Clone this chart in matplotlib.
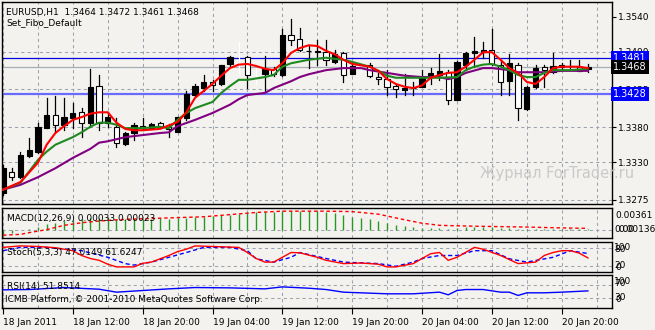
import matplotlib
matplotlib.use("Agg")
import matplotlib.pyplot as plt
from matplotlib.patches import Rectangle

# ---- data (EURUSD H1, 18 Jan 04:00 .. 20 Jan 23:00) ----
opens  = [1.3285,1.3316,1.3308,1.3339,1.3345,1.3379,1.3398,1.3384,1.3394,1.3402,
          1.3387,1.3440,1.3387,1.3381,1.3356,1.3372,1.3382,1.3379,1.3387,1.3381,
          1.3373,1.3394,1.3427,1.3437,1.3446,1.3443,1.3472,1.3482,1.3482,1.3466,
          1.3457,1.3465,1.3456,1.3514,1.3508,1.3491,1.3491,1.3489,1.3475,1.3488,
          1.3457,1.3469,1.3471,1.3453,1.3450,1.3440,1.3434,1.3437,1.3439,1.3453,
          1.3456,1.3460,1.3420,1.3471,1.3488,1.3489,1.3492,1.3471,1.3447,1.3471,
          1.3407,1.3439,1.3468,1.3460,1.3468,1.3469,1.3468,1.3464]
highs  = [1.3326,1.3321,1.3345,1.3365,1.3387,1.3423,1.3425,1.3423,1.3416,1.3408,
          1.3465,1.3456,1.3402,1.3394,1.3373,1.3387,1.3394,1.3387,1.3388,1.3385,
          1.3395,1.3433,1.3443,1.3456,1.3449,1.3471,1.3484,1.3504,1.3484,1.3466,
          1.3484,1.3468,1.3523,1.3537,1.3524,1.3499,1.3507,1.3507,1.3492,1.3489,
          1.3471,1.3471,1.3473,1.3459,1.3463,1.3443,1.3457,1.3446,1.3463,1.3466,
          1.3486,1.3463,1.3476,1.3489,1.3511,1.3504,1.3523,1.3478,1.3486,1.3473,
          1.3440,1.3471,1.3471,1.3488,1.3473,1.3478,1.3477,1.3472]
lows   = [1.3282,1.3304,1.3307,1.3337,1.3343,1.3379,1.3373,1.3376,1.3379,1.3366,
          1.3381,1.3376,1.3381,1.3352,1.3355,1.3362,1.3376,1.3378,1.3379,1.3366,
          1.3373,1.3391,1.3425,1.3433,1.3433,1.3441,1.3468,1.3459,1.3437,1.3443,
          1.3433,1.3455,1.3455,1.3499,1.3491,1.3466,1.3471,1.3471,1.3473,1.3446,
          1.3457,1.3460,1.3453,1.3443,1.3427,1.3424,1.3427,1.3427,1.3439,1.3443,
          1.3449,1.3414,1.3420,1.3463,1.3468,1.3481,1.3471,1.3427,1.3427,1.3391,
          1.3405,1.3437,1.3439,1.3459,1.3463,1.3463,1.3462,1.3461]
closes = [1.3321,1.3308,1.3340,1.3347,1.3381,1.3398,1.3384,1.3395,1.3401,1.3387,
          1.3439,1.3387,1.3395,1.3358,1.3372,1.3384,1.3379,1.3385,1.3382,1.3378,
          1.3395,1.3428,1.3440,1.3446,1.3441,1.3471,1.3482,1.3472,1.3456,1.3460,
          1.3465,1.3457,1.3514,1.3507,1.3492,1.3491,1.3490,1.3478,1.3486,1.3456,
          1.3469,1.3466,1.3455,1.3450,1.3439,1.3436,1.3437,1.3437,1.3453,1.3459,
          1.3462,1.3420,1.3475,1.3488,1.3491,1.3492,1.3472,1.3446,1.3474,1.3408,
          1.3439,1.3466,1.3463,1.3469,1.3471,1.3469,1.3462,1.3468]
ghost = [27, 29, 41]   # bars that are drawn white-on-white in the screenshot

red_i = [0,2,4,5,6,7,8,9,10,11,12,13,14,15,16,18,20,21,22,23,24,25,26,27,28,29,30,31,
         32,33,34,35,36,37,38,39,40,42,43,44,45,46,47,48,49,50,51,52,53,54,55,56,57,58,
         59,60,61,62,63,64,66,67]
red_v = [1.3290,1.3301,1.3329,1.3355,1.3372,1.3382,1.3391,1.3395,1.3400,1.3402,1.3402,
         1.3387,1.3378,1.3376,1.3376,1.3378,1.3388,1.3402,1.3423,1.3433,1.3443,1.3455,
         1.3466,1.3471,1.3472,1.3469,1.3465,1.3463,1.3473,1.3488,1.3495,1.3499,1.3498,
         1.3491,1.3486,1.3478,1.3472,1.3468,1.3462,1.3450,1.3443,1.3439,1.3437,1.3441,
         1.3452,1.3456,1.3459,1.3460,1.3468,1.3478,1.3489,1.3489,1.3478,1.3466,1.3459,
         1.3446,1.3443,1.3453,1.3466,1.3468,1.3468,1.3466]
green_i = [0,2,4,5,6,8,9,10,11,12,13,14,16,18,19,20,21,22,24,25,26,27,28,30,31,32,33,35,
           37,39,40,42,43,44,45,47,50,52,53,54,55,56,57,58,59,60,61,62,63,65,67]
green_v = [1.3290,1.3300,1.3333,1.3345,1.3355,1.3366,1.3373,1.3381,1.3387,1.3387,1.3384,
           1.3379,1.3379,1.3381,1.3379,1.3391,1.3401,1.3408,1.3417,1.3430,1.3440,1.3449,
           1.3449,1.3453,1.3456,1.3468,1.3473,1.3478,1.3481,1.3478,1.3475,1.3468,1.3462,
           1.3455,1.3452,1.3452,1.3452,1.3453,1.3463,1.3468,1.3471,1.3472,1.3468,1.3463,
           1.3456,1.3453,1.3453,1.3459,1.3463,1.3463,1.3465]
purple_i = [0,2,4,6,8,10,11,12,14,16,18,19,20,22,24,26,27,28,30,31,33,34,35,37,39,41,42,
            44,46,48,50,51,52,53,55,56,58,59,62,64,67]
purple_v = [1.3290,1.3297,1.3308,1.3321,1.3336,1.3349,1.3358,1.3360,1.3366,1.3369,1.3372,
            1.3373,1.3382,1.3391,1.3401,1.3413,1.3421,1.3427,1.3430,1.3437,1.3447,1.3453,
            1.3457,1.3463,1.3466,1.3466,1.3463,1.3459,1.3455,1.3453,1.3453,1.3450,1.3453,
            1.3459,1.3466,1.3466,1.3463,1.3460,1.3460,1.3462,1.3462]

macd_hist = [-0.0013,-0.0006,0.0000,0.0004,0.0009,0.0014,0.0017,0.0021,0.0025,0.0027,
             0.0029,0.0030,0.0029,0.0027,0.0026,0.0027,0.0027,0.0027,0.0028,0.0027,
             0.0028,0.0030,0.0031,0.0032,0.0033,0.0035,0.0037,0.0039,0.0041,0.0042,
             0.0043,0.0043,0.0045,0.0046,0.0046,0.0046,0.0045,0.0044,0.0041,0.0036,
             0.0032,0.0030,0.0027,0.0023,0.0017,0.0012,0.0010,0.0008,0.0006,0.0006,
             0.0005,0.0004,0.0006,0.0008,0.0009,0.0008,0.0007,0.0006,0.0006,0.0003,
             0.0003,0.0004,0.0004,0.0004,0.0004,0.0004,0.0004,0.0003]
sig_i = [0,2,3,5,7,9,11,14,17,20,23,26,29,32,37,40,43,46,48,50,54,60,64,67]
sig_v = [-0.0011,-0.0009,-0.0005,0.0002,0.0012,0.0018,0.0022,0.0026,0.0028,0.0030,
         0.0032,0.0037,0.0042,0.0045,0.0045,0.0044,0.0038,0.0025,0.0017,0.0012,
         0.0010,0.0008,0.0006,0.0005]

stm_i = [0,2,4,6,8,9,10,11,12,13,15,16,17,19,20,21,22,24,25,27,28,29,30,31,32,33,34,36,
         37,39,41,43,44,45,47,48,49,50,51,52,54,55,57,59,61,62,63,64,65,66,67]
stm_v = [82,87,85,81,71,55,45,39,26,17,17,29,33,55,68,76,87,85,84,82,65,45,33,33,49,65,
         64,49,39,28,30,26,17,17,28,45,61,65,39,49,82,76,55,28,33,55,65,71,71,63,47]
sts_i = [0,2,5,9,12,14,15,17,21,23,26,28,29,31,33,34,37,39,43,45,47,48,50,52,54,56,58,
         60,63,65,67]
sts_v = [71,82,82,71,49,28,23,33,65,82,82,71,44,33,49,65,45,33,28,19,33,45,55,55,71,71,
         44,33,49,71,61.6]

rsi_i = [0,3,7,11,13,16,19,22,26,30,32,35,37,39,44,47,50,51,52,53,55,57,58,59,60,62,64,67]
rsi_v = [55,56,62,57,48,53,58,62,61,58,64,60,56,48,43,43,48,40,53,56,56,48,48,38,46,46,
         48,51.85]

price_ticks = [1.3540, 1.3490, 1.3435, 1.3380, 1.3330, 1.3275]
price_grid = [1.3490, 1.3435, 1.3380, 1.3330, 1.3275]
time_idx = [0, 8, 16, 24, 32, 40, 48, 56, 64]
time_lbl = ["18 Jan 2011", "18 Jan 12:00", "18 Jan 20:00", "19 Jan 04:00", "19 Jan 12:00",
            "19 Jan 20:00", "20 Jan 04:00", "20 Jan 12:00", "20 Jan 20:00"]
price_lines = [(1.3481, "#0000e0", 0.9, "#0000ff"),
               (1.3468, "#a7adb5", 0.9, "#000000"),
               (1.3428, "#6a6aff", 1.6, "#0000ff")]

# ---- layout (pixel based, 655x330) ----
W, H = 655, 330
BG = "#f4f2ef"
GRID = "#9aa3ae"
FS = 6.5
plt.rcParams["font.family"] = ["DejaVu Sans"]

fig = plt.figure(figsize=(W / 100, H / 100), dpi=100, facecolor=BG)
XMIN, XMAX = -0.115, 69.76


def fx(x):
    return x / W


def fy(y):
    return 1 - y / H


def panel(top, bottom, ylim):
    ax = fig.add_axes([fx(2), fy(bottom), 610 / W, (bottom - top) / H])
    ax.set_facecolor(BG)
    ax.set_xlim(XMIN, XMAX)
    ax.set_ylim(*ylim)
    for s in ax.spines.values():
        s.set_color("black")
        s.set_linewidth(1.0)
    ax.tick_params(left=False, labelleft=False, bottom=False, labelbottom=False)
    for k in range(0, 69, 4):
        ax.axvline(k, color=GRID, lw=0.75, ls=(0, (3, 3)), zorder=0)
    return ax


def ftext(x, y, s, **kw):
    kw.setdefault("fontsize", FS)
    fig.text(fx(x), fy(y), s, va="center", ha="left", **kw)


# main price panel
ax = panel(2, 204, (1.32692, 1.35617))
for p in price_grid:
    ax.axhline(p, color=GRID, lw=0.75, ls=(0, (3, 3)), zorder=0)
ax.yaxis.tick_right()
ax.tick_params(right=True, labelright=True, length=3, width=0.8, pad=1.5, labelsize=FS)
ax.set_yticks(price_ticks)
ax.set_yticklabels(["%.4f" % p for p in price_ticks])

for p, col, lw, box in price_lines:
    ax.axhline(p, color=col, lw=lw, zorder=1)
    ax.text(1.002, p, "%.4f" % p, transform=ax.get_yaxis_transform(), color="white",
            fontsize=FS + 0.5, va="center", ha="left", clip_on=False, zorder=10,
            bbox=dict(boxstyle="square,pad=0.2", fc=box, ec="none"))

bw = 0.6
for i in range(len(opens)):
    o, h, l, c = opens[i], highs[i], lows[i], closes[i]
    if i in ghost:
        ax.plot([i, i], [l, h], color="white", lw=0.9, zorder=2)
        continue
    ax.plot([i, i], [l, h], color="black", lw=0.9, zorder=2)
    face = "black" if c > o else "white"
    ax.add_patch(Rectangle((i - bw / 2, min(o, c)), bw, max(abs(c - o), 0.00002),
                           fc=face, ec="black", lw=0.8, zorder=3))

ax.plot(purple_i, purple_v, color="#800080", lw=1.5, zorder=4)
ax.plot(green_i, green_v, color="#1f8a1f", lw=1.5, zorder=5)
ax.plot(red_i, red_v, color="#ff0000", lw=1.5, zorder=6)

ftext(6, 12, "EURUSD,H1  1.3464 1.3472 1.3461 1.3468")
ftext(6, 23, "Set_Fibo_Default")
ftext(480, 173, "Журнал ForTrader.ru", fontsize=10.5, color="#c9c9c9")

# MACD panel
axm = panel(208, 238, (-0.00175, 0.00524))
axm.axhline(0, color=GRID, lw=0.75, ls=(0, (3, 3)), zorder=0)
axm.vlines(range(len(macd_hist)), 0, macd_hist, color="#249a24", lw=1.0, zorder=2)
axm.plot(sig_i, sig_v, color="#ff0000", lw=1.0, ls=(0, (2.5, 2)), zorder=3)
ftext(7, 218, "MACD(12,26,9) 0.00033 0.00023")
ftext(615, 215, "0.00361")
ftext(614, 230, "0.00")
ftext(618, 230, "0.00136")

# Stochastic panel
axs = panel(242, 272, (0, 100))
for lev in (80, 20):
    axs.axhline(lev, color=GRID, lw=0.75, ls=(0, (3, 3)), zorder=0)
axs.plot(sts_i, sts_v, color="#0000ff", lw=1.0, ls=(0, (3, 2)), zorder=2)
axs.plot(stm_i, stm_v, color="#ff0000", lw=1.0, zorder=3)
ftext(7, 253, "Stoch(5,3,3) 47.0149 61.6247")
ftext(614, 248, "100")
ftext(614, 249, "80")
ftext(614, 265, "20")
ftext(615, 267, "0")

# RSI panel
axr = panel(275, 308, (0, 100))
for lev in (70, 30):
    axr.axhline(lev, color=GRID, lw=0.75, ls=(0, (3, 3)), zorder=0)
axr.plot(rsi_i, rsi_v, color="#0000ff", lw=1.0, zorder=3)
ftext(7, 286, "RSI(14) 51.8514")
ftext(5, 300, "ICMB Platform, © 2001-2010 MetaQuotes Software Corp.")
ftext(614, 282, "100")
ftext(614, 284, "70")
ftext(614, 298, "30")
ftext(615, 300, "0")

axr.tick_params(bottom=True, labelbottom=True, length=4, width=0.8, pad=3, labelsize=FS)
axr.set_xticks(time_idx)
axr.set_xticklabels(time_lbl)
for t in axr.get_xticklabels():
    t.set_ha("left")

fig.savefig("out.png", dpi=100, facecolor=BG)
